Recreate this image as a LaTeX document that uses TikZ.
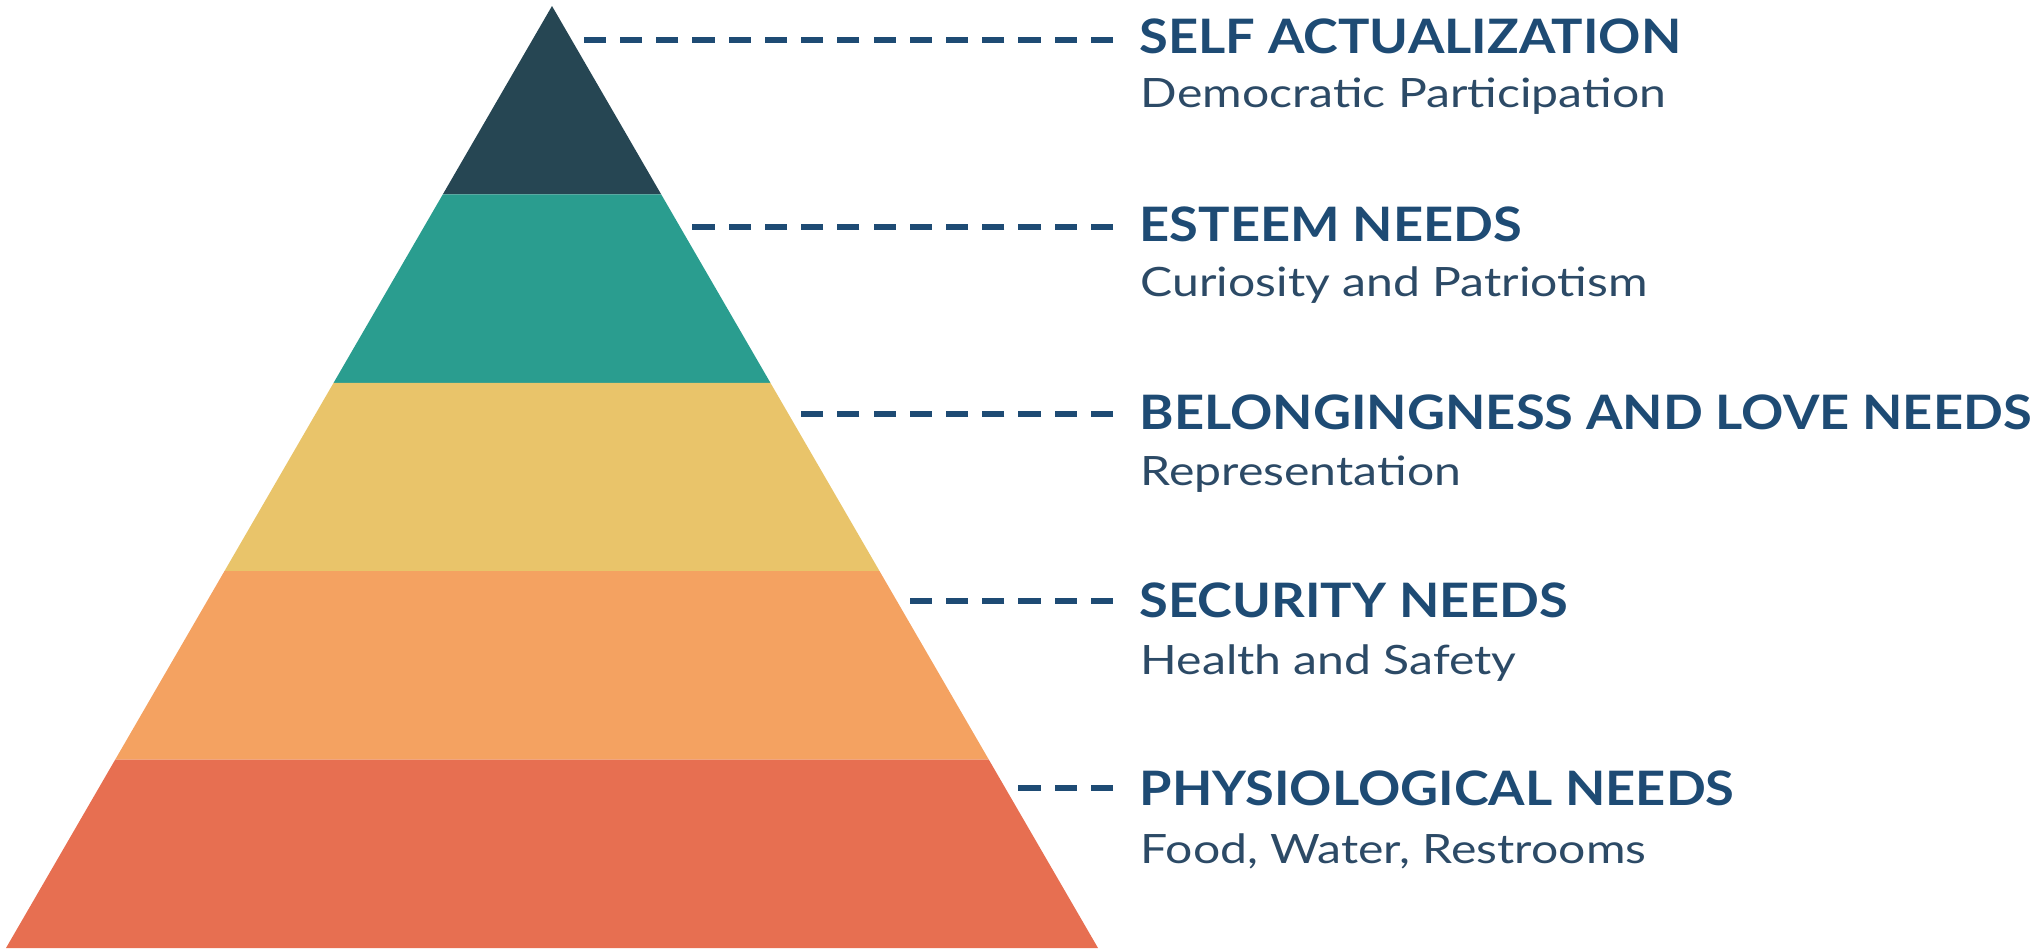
\documentclass[tikz,border=0pt]{standalone}
\usepackage{fontspec}
\setmainfont{Lato}
\newfontfamily\ttlfont[FakeStretch=1.105]{Lato}
\newfontfamily\subfont[FakeStretch=1.19]{Lato}
\definecolor{cdark}{HTML}{264653}
\definecolor{cteal}{HTML}{2A9D8F}
\definecolor{cyellow}{HTML}{E9C46A}
\definecolor{corange}{HTML}{F4A261}
\definecolor{cred}{HTML}{E76F51}
\definecolor{ctitle}{HTML}{1E4B74}
\definecolor{csub}{HTML}{2C4A66}
\tikzset{
  band/.style={draw=none},
  leader/.style={draw=ctitle, line width=1.7pt, dash pattern=on 6.3pt off 4pt},
  ttl/.style={anchor=base west, inner sep=0pt, text=ctitle, font=\ttlfont\fontsize{13.5}{16}\selectfont\bfseries},
  sub/.style={anchor=base west, inner sep=0pt, text=csub, font=\subfont\fontsize{11.5}{14}\selectfont}
}
\begin{document}
\begin{tikzpicture}[x=0.01cm,y=-0.01cm]
\useasboundingbox (0,0) rectangle (2031,951);
% pyramid bands
\fill[band, cdark]   (552,6) -- (661.2,194.4) -- (442.8,194.4) -- cycle;
\fill[band, cteal]   (442.8,194.4) -- (661.2,194.4) -- (770.4,382.8) -- (333.6,382.8) -- cycle;
\fill[band, cyellow] (333.6,382.8) -- (770.4,382.8) -- (879.6,571.2) -- (224.4,571.2) -- cycle;
\fill[band, corange] (224.4,571.2) -- (879.6,571.2) -- (988.8,759.6) -- (115.2,759.6) -- cycle;
\fill[band, cred]    (115.2,759.6) -- (988.8,759.6) -- (1098,948) -- (6,948) -- cycle;
% leader end points
\coordinate (e1) at (584,40);   \coordinate (d1) at (1113,40);
\coordinate (e2) at (692,227);  \coordinate (d2) at (1113,227);
\coordinate (e3) at (800,414);  \coordinate (d3) at (1113,414);
\coordinate (e4) at (909,601);  \coordinate (d4) at (1113,601);
\coordinate (e5) at (1017,788); \coordinate (d5) at (1113,788);
\foreach \i in {1,...,5} { \draw[leader] (d\i) -- (e\i); }
% labels
\node[ttl] (t1) at (1139,53)  {SELF ACTUALIZATION};
\node[sub] (s1) at (1140,107) {Democratic Participation};
\node[ttl] (t2) at (1139,241) {ESTEEM NEEDS};
\node[sub] (s2) at (1140,296) {Curiosity and Patriotism};
\node[ttl] (t3) at (1139,429) {BELONGINGNESS AND LOVE NEEDS};
\node[sub] (s3) at (1140,485) {Representation};
\node[ttl] (t4) at (1139,617) {SECURITY NEEDS};
\node[sub] (s4) at (1140,674) {Health and Safety};
\node[ttl] (t5) at (1139,805) {PHYSIOLOGICAL NEEDS};
\node[sub] (s5) at (1140,863) {Food, Water, Restrooms};
\end{tikzpicture}
\end{document}
